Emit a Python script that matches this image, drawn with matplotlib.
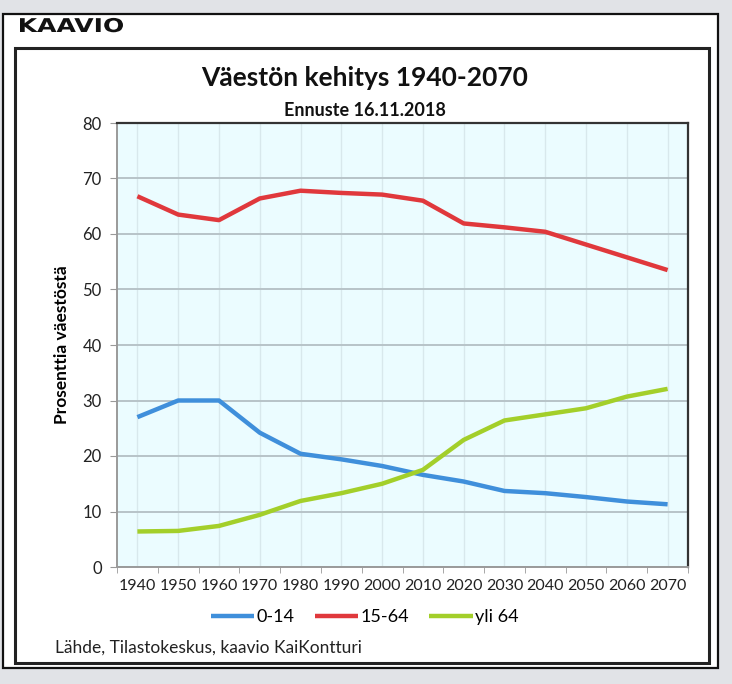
import matplotlib.pyplot as plt
from matplotlib.patches import Rectangle, PathPatch
from matplotlib.textpath import TextPath
from matplotlib.font_manager import FontProperties
from matplotlib.transforms import Affine2D

# data (percent of population)
years = [1940, 1950, 1960, 1970, 1980, 1990, 2000, 2010, 2020, 2030, 2040, 2050, 2060, 2070]
age_0_14 = [27.0, 30.0, 30.0, 24.2, 20.4, 19.4, 18.2, 16.6, 15.4, 13.7, 13.3, 12.6, 11.8, 11.3]
age_15_64 = [66.8, 63.5, 62.5, 66.4, 67.8, 67.4, 67.1, 66.0, 61.9, 61.2, 60.4, 58.1, 55.8, 53.5]
age_65 = [6.4, 6.5, 7.4, 9.4, 11.9, 13.3, 15.0, 17.5, 22.9, 26.4, 27.5, 28.6, 30.7, 32.1]
labels = ['0-14', '15-64', 'yli 64']

W, H = 732, 684
fig = plt.figure(figsize=(W / 100, H / 100), dpi=100)
fig.patch.set_facecolor('#e1e3e7')
plt.rcParams['font.family'] = ['Lato', 'DejaVu Sans']

def box(x0, y0, x1, y1, **kw):
    # pixel coords (top-left origin) -> figure rectangle
    fig.patches.append(Rectangle((x0 / W, 1 - y1 / H), (x1 - x0) / W, (y1 - y0) / H,
                                 transform=fig.transFigure, zorder=-5, **kw))

box(3, 14, 718, 668, facecolor='white', edgecolor='#111111', lw=1.6)
box(15, 48, 709, 663, facecolor='white', edgecolor='#222222', lw=2.2)

# wide heading, stretched horizontally (pixel units)
tp = TextPath((0, 0), 'KAAVIO', size=19, prop=FontProperties(family='DejaVu Sans', weight='bold'))
ext = tp.get_extents()
sx = 103 / ext.width
tr = Affine2D().translate(-ext.x0, 0).scale(sx, 1).translate(20, H - 32)
fig.patches.append(PathPatch(tr.transform_path(tp), transform=None,
                             facecolor='#111111', edgecolor='none'))

ax = fig.add_axes([117 / W, 1 - 567 / H, (688 - 117) / W, (567 - 123) / H])
ax.set_zorder(2)
ax.set_facecolor('#ebfcff')

ax.plot(years, age_0_14, color='#3f8fdb', lw=3.2, label=labels[0], solid_capstyle='butt')
ax.plot(years, age_15_64, color='#e0383c', lw=3.2, label=labels[1], solid_capstyle='butt')
ax.plot(years, age_65, color='#a3cf2a', lw=3.2, label=labels[2], solid_capstyle='butt')

ax.set_xlim(1935, 2075)
ax.set_ylim(0, 80)
ax.set_yticks(range(0, 81, 10))
ax.set_xticks(years)
ax.set_xticks([y + 5 for y in years[:-1]] + [1935, 2075], minor=True)
ax.tick_params(axis='x', which='major', length=0, pad=9, labelsize=11.5, colors='#222222')
ax.tick_params(axis='x', which='minor', length=4, color='#999999')
ax.tick_params(axis='y', length=5, color='#999999', labelsize=12, labelcolor='#222222', pad=6)

ax.grid(axis='y', color='#b7c3c8', lw=1.4)
ax.grid(axis='x', color='#d8e8ec', lw=1.0)
ax.set_axisbelow(True)
for s in ['left', 'bottom']:
    ax.spines[s].set_color('#9a9a9a')
    ax.spines[s].set_linewidth(1.4)
for s in ['top', 'right']:
    ax.spines[s].set_color('#333333')
    ax.spines[s].set_linewidth(1.6)

ax.set_ylabel('Prosenttia väestöstä', fontweight='bold', fontsize=12.5, labelpad=9)

fig.text(365 / W, 1 - 78 / H, 'Väestön kehitys 1940-2070', fontweight='bold',
         fontsize=19, ha='center', va='center', color='#111111')
fig.text(365 / W, 1 - 110 / H, 'Ennuste 16.11.2018', fontweight='bold',
         fontsize=13, ha='center', va='center', color='#111111')

fig.legend(loc='center', bbox_to_anchor=(365 / W, 1 - 617 / H), ncol=3, frameon=False,
           fontsize=13, handlelength=2.4, handletextpad=0.15, columnspacing=1.1)

fig.text(55 / W, 1 - 648 / H, 'Lähde, Tilastokeskus, kaavio KaiKontturi',
         fontsize=12.5, ha='left', va='center', color='#222222')

fig.savefig('out.png', dpi=100, facecolor=fig.get_facecolor())
